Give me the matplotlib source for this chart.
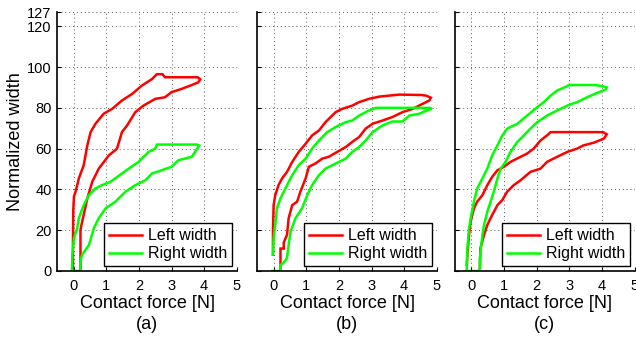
import matplotlib
matplotlib.use("Agg")
import matplotlib.pyplot as plt

plt.rcParams['font.family'] = ['Liberation Sans', 'DejaVu Sans']

# ---------------- data ----------------
# Panel (a)
a_left_force = [0.21, 0.21, 0.24, 0.42, 0.57, 0.77, 1.08, 1.33, 1.48, 1.64, 1.89, 2.14, 2.50, 2.80,
                3.00, 3.31, 3.62, 3.82, 3.88, 3.80, 2.80, 2.72, 2.55, 2.40, 2.09, 1.79, 1.48, 1.18,
                0.92, 0.67, 0.52, 0.42, 0.31, 0.16, 0.11, 0.06, 0.01, -0.01, -0.02, -0.02]
a_left_width = [0, 20, 22.6, 35.6, 43.7, 50.2, 56.7, 60.0, 68.1, 71.4, 77.9, 81.1, 84.4, 85.2,
                87.7, 89.3, 91.2, 92.5, 94, 95, 95, 96.5, 96.5, 94.1, 90.9, 86.8, 83.6, 79.5,
                77.1, 72.2, 68.1, 61.6, 51.9, 45.4, 42.1, 38.9, 36.5, 30, 15, 0]
a_right_force = [-0.05, 0.21, 0.21, 0.26, 0.47, 0.62, 0.77, 0.98, 1.28, 1.59, 1.89, 2.20, 2.40,
                 2.70, 3.00, 3.21, 3.62, 3.72, 3.82, 3.85, 3.78, 2.55, 2.50, 2.30, 1.99, 1.69,
                 1.48, 1.13, 0.87, 0.67, 0.47, 0.31, 0.16, 0.11, 0.01, -0.04, -0.05]
a_right_width = [0, 0, 5, 8, 12.8, 21, 25.9, 30.7, 34, 38.9, 42.1, 44.5, 47.8,
                 49.4, 51.1, 54.3, 56, 58.4, 60.8, 61.5, 62, 62, 60, 58.4, 53.5, 50.2,
                 47.8, 43.7, 42.1, 40.5, 37.2, 32.3, 25.9, 21, 16.1, 8, 0]

# Panel (b)
b_left_force = [0.21, 0.21, 0.31, 0.31, 0.41, 0.46, 0.57, 0.72, 0.82, 0.98, 1.08, 1.28, 1.49, 1.69,
                1.95, 2.21, 2.41, 2.62, 2.82, 3.03, 3.34, 3.64, 3.95, 4.26, 4.57, 4.77, 4.82, 4.67,
                4.52, 3.85, 3.54, 3.23, 2.92, 2.62, 2.41, 2.10, 1.90, 1.59, 1.39, 1.18, 0.98, 0.77,
                0.57, 0.41, 0.26, 0.15, 0.05, 0.0, -0.02, -0.02]
b_left_width = [0, 11, 11, 14, 17.7, 25.9, 32.3, 34, 38.9, 45.4, 51.1, 52.7, 55.1, 56,
                58.4, 60.8, 63.3, 65.7, 69.8, 72.2, 73.8, 75.5, 77.9, 79.5, 82, 83.6, 85, 86,
                86.3, 86.5, 86, 85.5, 84.4, 82.8, 81.1, 79.5, 77.9, 73, 68.9, 66.5, 62.4, 58.4,
                53.5, 48.6, 45.4, 42.1, 37.2, 32.3, 20, 8]
b_right_force = [-0.04, 0.21, 0.21, 0.30, 0.41, 0.46, 0.52, 0.67, 0.87, 1.03, 1.18, 1.39, 1.59,
                 1.90, 2.21, 2.41, 2.62, 2.82, 3.03, 3.34, 3.64, 3.95, 4.16, 4.46, 4.77, 4.85,
                 4.78, 3.13, 2.92, 2.62, 2.41, 2.21, 1.90, 1.64, 1.39, 1.18, 0.98, 0.77, 0.57,
                 0.41, 0.21, 0.10, 0.05, 0.0, -0.02]
b_right_width = [0, 0, 3, 4, 6.3, 12.8, 19.4, 25.9, 30.7, 37.2, 42.1, 47, 50.2,
                 52.7, 55.1, 58.4, 60.8, 64, 68.1, 71.4, 73.3, 73.3, 76.2, 77.1, 79.2, 79.5,
                 80, 80, 78.7, 76.2, 73.8, 73, 70.6, 68.1, 64, 60, 55.1, 51.9, 47,
                 42.1, 35.6, 30.7, 22.6, 16.1, 8]

# Panel (c)
c_left_force = [0.26, 0.28, 0.39, 0.49, 0.64, 0.80, 0.95, 1.10, 1.30, 1.51, 1.81, 2.12, 2.32, 2.63,
                2.94, 3.24, 3.44, 3.75, 4.06, 4.15, 4.05, 3.85, 2.43, 2.32, 2.12, 1.91, 1.71, 1.51,
                1.20, 1.00, 0.80, 0.64, 0.49, 0.34, 0.18, 0.08, -0.02, -0.07, -0.12, -0.14]
c_left_width = [0, 11.2, 17.7, 22.6, 27.5, 32.3, 34.8, 38.9, 42.1, 44.5, 48.6, 50.2, 53.5, 56,
                58.4, 60, 61.6, 62.9, 64.9, 67, 68, 68.1, 68.1, 66.5, 64, 60, 57.6, 56,
                53.5, 51.1, 49.4, 46.2, 42.1, 37.2, 34, 30.7, 24.2, 17.7, 8, 3]
c_right_force = [-0.14, 0.26, 0.26, 0.34, 0.39, 0.49, 0.59, 0.69, 0.80, 0.90, 1.05, 1.20, 1.41,
                 1.61, 1.81, 2.02, 2.32, 2.63, 2.94, 3.24, 3.55, 3.85, 4.11, 4.15, 4.05, 3.80,
                 2.98, 2.94, 2.63, 2.43, 2.22, 2.02, 1.71, 1.41, 1.10, 0.95, 0.80, 0.64, 0.49,
                 0.34, 0.18, 0.08, 0.0, -0.07, -0.12, -0.14]
c_right_width = [0, 0, 6.3, 17.7, 22.6, 29.1, 34, 38.9, 45.4, 50.2, 53.5, 58.4, 63.3,
                 66.5, 69.8, 73, 76.2, 78.7, 81.1, 82.8, 85.2, 87.3, 88.9, 90, 90.5, 91.2,
                 91.2, 90.6, 88.5, 86, 82.8, 80.3, 76.2, 72.2, 69.8, 66.5, 61.6, 56.7, 50.2,
                 45.4, 40.5, 34, 27.5, 21, 11.2, 0]

panel_labels = ['(a)', '(b)', '(c)']
series_names = ['Left width', 'Right width']
x_ticks = [0, 1, 2, 3, 4, 5]
y_ticks = [0, 20, 40, 60, 80, 100, 120, 127]

panels = [
    (a_left_force, a_left_width, a_right_force, a_right_width),
    (b_left_force, b_left_width, b_right_force, b_right_width),
    (c_left_force, c_left_width, c_right_force, c_right_width),
]

# ---------------- figure ----------------
W, H = 636, 339
fig = plt.figure(figsize=(W / 100, H / 100), dpi=100)

lefts_px = [57.3, 257.3, 455.0]
width_px = 179.5
bottom_px, top_px = 271.0, 12.0

for i, (lf, lw, rf, rw) in enumerate(panels):
    ax = fig.add_axes([lefts_px[i] / W, 1 - bottom_px / H,
                       width_px / W, (bottom_px - top_px) / H])
    ax.plot(lf, lw, color='#ff0000', lw=1.8, label=series_names[0], solid_joinstyle='miter')
    ax.plot(rf, rw, color='#00ff00', lw=1.8, label=series_names[1], solid_joinstyle='miter')
    ax.set_xlim(-0.5, 5)
    ax.set_ylim(0, 127)
    ax.set_xticks(x_ticks)
    ax.set_yticks(y_ticks)
    ax.grid(True, linestyle=(0, (1, 3)), color='0.35', linewidth=0.7)
    for s in ['top', 'right']:
        ax.spines[s].set_visible(False)
    for s in ['left', 'bottom']:
        ax.spines[s].set_linewidth(1.2)
        ax.spines[s].set_color('black')
    ax.tick_params(direction='in', length=3, width=0.8, labelsize=10.5, pad=4)
    ax.tick_params(axis='x', pad=5.5)
    if i == 0:
        ax.set_ylabel('Normalized width', fontsize=13, labelpad=2)
    else:
        ax.set_yticklabels([])
    ax.set_xlabel('Contact force [N]\n' + panel_labels[i], fontsize=13,
                  labelpad=2, linespacing=1.25)
    leg = ax.legend(loc='lower right', fontsize=11.5, fancybox=False, framealpha=1,
                    edgecolor='black', borderaxespad=0.3, handlelength=2.1,
                    handletextpad=0.35, labelspacing=0.2, borderpad=0.3)
    leg.get_frame().set_linewidth(1.0)

fig.savefig('out.png', dpi=100)
